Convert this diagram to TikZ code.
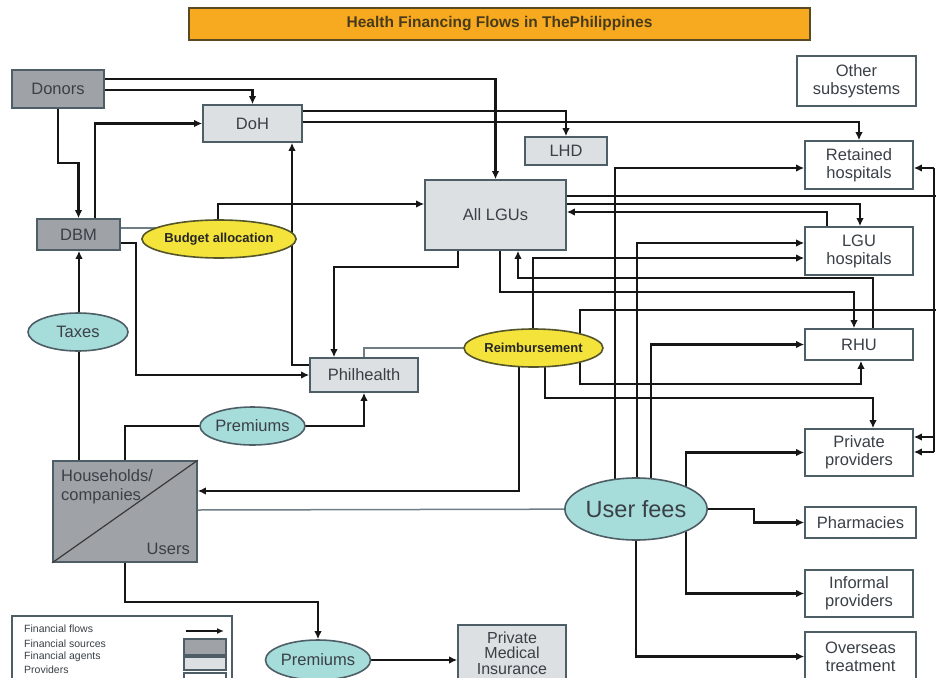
\documentclass[tikz,border=0pt]{standalone}
\usepackage{fontspec}
\setmainfont{Liberation Sans}
\usetikzlibrary{arrows.meta,shapes.geometric,backgrounds}
\definecolor{srcfill}{HTML}{9FA3A7}
\definecolor{agfill}{HTML}{DCE0E3}
\definecolor{bordc}{HTML}{4E5E66}
\definecolor{ylw}{HTML}{F3E33A}
\definecolor{ylwb}{HTML}{55552A}
\definecolor{tealf}{HTML}{A6DCDA}
\definecolor{orng}{HTML}{F7AA1F}
\definecolor{orngb}{HTML}{5A4A22}
\definecolor{lnc}{HTML}{161616}
\definecolor{thinc}{HTML}{6E7E84}
\definecolor{txtc}{HTML}{3A4046}
\tikzset{
  box/.style={draw=bordc, line width=1.6pt, inner sep=0pt, align=center, text=txtc,
    font=\fontsize{16.5}{18}\selectfont},
  srcbox/.style={box, fill=srcfill},
  agbox/.style={box, fill=agfill},
  provbox/.style={box, fill=white},
  yell/.style={ellipse, draw=ylwb, line width=1.6pt, fill=ylw, inner sep=0pt,
    font=\bfseries\fontsize{13}{15}\selectfont, text=black!85},
  tel/.style={ellipse, draw=bordc, line width=1.6pt, fill=tealf, inner sep=0pt,
    font=\fontsize{16.5}{18}\selectfont, text=txtc},
  flow/.style={draw=lnc, line width=2.8pt, -{Latex[length=8pt,width=7.5pt]}},
  link/.style={draw=lnc, line width=2.8pt},
  glink/.style={draw=thinc, line width=1.5pt},
  lgtext/.style={anchor=west, inner sep=0pt, text=txtc, font=\fontsize{10.5}{12}\selectfont},
}
\begin{document}
\begin{tikzpicture}[x=1pt,y=-1pt]
\useasboundingbox (0,0) rectangle (936,677);
% title
\node[fill=orng, draw=orngb, line width=1.6pt, minimum width=621pt, minimum height=32pt, inner sep=0pt,
  font=\bfseries\fontsize{15.5}{17}\selectfont, text=orngb!80!black] (title) at (499.5,24)
  {Health Financing Flows in ThePhilippines};
% sources
\node[srcbox, minimum width=92pt, minimum height=38pt] (donors) at (58,89) {Donors};
\node[srcbox, minimum width=83pt, minimum height=31pt] (dbm) at (78.5,234.5) {DBM};
\node[srcbox, minimum width=144pt, minimum height=101pt] (hh) at (125,511.5) {};
\draw[draw=lnc!85, line width=1.2pt] (hh.south west) -- (hh.north east);
\node[anchor=west, inner sep=0pt, align=left, text=txtc, font=\fontsize{16.5}{19}\selectfont] (hhlab) at (61,487) {Households/\\companies};
\node[anchor=east, inner sep=0pt, text=txtc, font=\fontsize{16.5}{19}\selectfont] (hhusers) at (190,549) {Users};
% agents
\node[agbox, minimum width=99pt, minimum height=37pt] (doh) at (252.5,123.5) {DoH};
\node[agbox, minimum width=141pt, minimum height=70pt] (alllgus) at (495.5,215) {All LGUs};
\node[agbox, minimum width=82pt, minimum height=28pt] (lhd) at (566,151) {LHD};
\node[agbox, minimum width=108pt, minimum height=34pt] (philhealth) at (364,375) {Philhealth};
\node[agbox, minimum width=108pt, minimum height=70pt] (pmi) at (512,660) {};
\node[inner sep=0pt, align=center, text=txtc, font=\fontsize{16}{15.5}\selectfont] (pmitext) at (512,653) {Private\\Medical\\Insurance};
% providers
\node[provbox, minimum width=119pt, minimum height=50pt] (other) at (856.5,81) {Other\\subsystems};
\node[provbox, minimum width=108pt, minimum height=48pt] (retained) at (859,165) {Retained\\hospitals};
\node[provbox, minimum width=108pt, minimum height=48pt] (lguhosp) at (859,251) {LGU\\hospitals};
\node[provbox, minimum width=108pt, minimum height=31pt] (rhu) at (859,344.5) {RHU};
\node[provbox, minimum width=108pt, minimum height=47pt] (private) at (859,452.5) {Private\\providers};
\node[provbox, minimum width=111pt, minimum height=31pt] (pharm) at (860.5,522.5) {Pharmacies};
\node[provbox, minimum width=108pt, minimum height=47pt] (informal) at (859,593.5) {Informal\\providers};
\node[provbox, minimum width=111pt, minimum height=49pt] (overseas) at (860.5,656.5) {Overseas\\treatment};
% ellipses
\node[yell, minimum width=132pt, minimum height=38pt] (budget) at (219,239) {Budget allocation};
\node[yell, minimum width=133pt, minimum height=38pt] (reimb) at (533.5,348) {Reimbursement};
\node[tel, minimum width=100pt, minimum height=38pt] (taxes) at (78,332) {Taxes};
\node[tel, minimum width=99pt, minimum height=38pt] (prem1) at (252.5,426) {Premiums};
\node[tel, minimum width=100pt, minimum height=40pt] (prem2) at (318,660) {Premiums};
\node[tel, minimum width=140pt, minimum height=62pt, font=\fontsize{23.5}{26}\selectfont] (userfees) at (636,509) {User fees};
% legend
\node[draw=bordc, line width=1.2pt, fill=white, minimum width=220pt, minimum height=84pt, inner sep=0pt] (legend) at (122,658) {};
\node[lgtext] (lgt1) at (24,629) {Financial flows};
\node[lgtext] (lgt2) at (24,644) {Financial sources};
\node[lgtext] (lgt3) at (24,657) {Financial agents};
\node[lgtext] (lgt4) at (24,670) {Providers};
\coordinate (lgA) at (186,631);
\coordinate (lgB) at (224,631);
\draw[draw=lnc, line width=2pt, -{Latex[length=7pt,width=6pt]}] (lgA) -- (lgB);
\node[srcbox, line width=1.2pt, minimum width=42pt, minimum height=16pt] (lgsrc) at (205,647) {};
\node[agbox, line width=1.2pt, minimum width=42pt, minimum height=13pt] (lgag) at (205,663.5) {};
\node[provbox, line width=1.2pt, minimum width=42pt, minimum height=16pt] (lgprov) at (205,681) {};
% bus coordinates on the right edge
\coordinate (busT) at (934,168);
\coordinate (busA) at (934,437);
\coordinate (busB) at (934,452);
\coordinate (busL) at (936,196);
\coordinate (busR) at (936,310);
\begin{scope}[on background layer]
\draw[flow] (donors.east |- 0,79) -| (alllgus.north);
\draw[flow] (donors.east |- 0,90) -| (doh.north);
\draw[flow] (58,0 |- donors.south) -- (58,163) -| (dbm.north);
\draw[flow] (95,0 |- dbm.north) |- (doh.west);
\draw[flow] (doh.east |- 0,111) -| (lhd.north);
\draw[flow] (doh.east |- 0,122) -| (retained.north);
\draw[glink] (dbm.east |- 0,228) -- (budget.center |- 0,228);
\draw[flow] (218,0 |- budget.center) |- (alllgus.west |- 0,204);
\draw[flow] (dbm.east |- 0,243) -- (136,243) |- (philhealth.west);
\draw[flow] (philhealth.west |- 0,365) -| (292,0 |- doh.south);
\draw[flow] (458,0 |- alllgus.south) -- (458,267) -| (334,0 |- philhealth.north);
\draw[glink] (reimb.center) -| (364,0 |- philhealth.north);
\draw[link] (125,0 |- hh.north) |- (prem1.center);
\draw[flow] (prem1.center) -| (364,0 |- philhealth.south);
\draw[link] (79,0 |- hh.north) -- (79,0 |- taxes.center);
\draw[flow] (79,0 |- taxes.center) -- (79,0 |- dbm.south);
\draw[flow] (519,0 |- reimb.center) |- (hh.east |- 0,491);
\draw[glink] (hh.east |- 0,510) -- (userfees.center);
\draw[flow] (125,0 |- hh.south) -- (125,602) -| (prem2.north);
\draw[flow] (prem2.east) -- (pmi.west |- prem2.east);
% right part
\draw[link] (alllgus.east |- busL) -- (busL);
\draw[flow] (alllgus.east |- 0,204) -| (860,0 |- lguhosp.north);
\draw[flow] (827,0 |- lguhosp.north) |- (alllgus.east |- 0,212);
\draw[flow] (500,0 |- alllgus.south) -- (500,292) -| (854,0 |- rhu.north);
\draw[flow] (873,0 |- rhu.north) -- (873,278) -| (518,0 |- alllgus.south);
\draw[flow] (533,0 |- reimb.center) |- (lguhosp.west |- 0,258);
\draw[flow] (615,0 |- userfees.center) |- (retained.west |- 0,168);
\draw[flow] (637,0 |- userfees.center) |- (lguhosp.west |- 0,243);
\draw[flow] (651,0 |- userfees.center) |- (rhu.west);
\draw[link] (580,0 |- reimb.center) |- (busR);
\draw[flow] (580,0 |- reimb.center) -- (580,384) -| (861,0 |- rhu.south);
\draw[flow] (545,0 |- reimb.center) -- (545,398) -| (873,0 |- private.north);
\draw[link] (busT) -- (busB);
\draw[flow] (busT) -- (retained.east |- busT);
\draw[flow] (busA) -- (private.east |- busA);
\draw[flow] (busB) -- (private.east |- busB);
\draw[flow] (686,0 |- userfees.center) |- (private.west);
\draw[flow] (686,0 |- userfees.center) |- (informal.west);
\draw[flow] (userfees.center) -- (754,0 |- userfees.center) |- (pharm.west);
\draw[flow] (636,0 |- userfees.center) |- (overseas.west);
\end{scope}
\end{tikzpicture}
\end{document}
